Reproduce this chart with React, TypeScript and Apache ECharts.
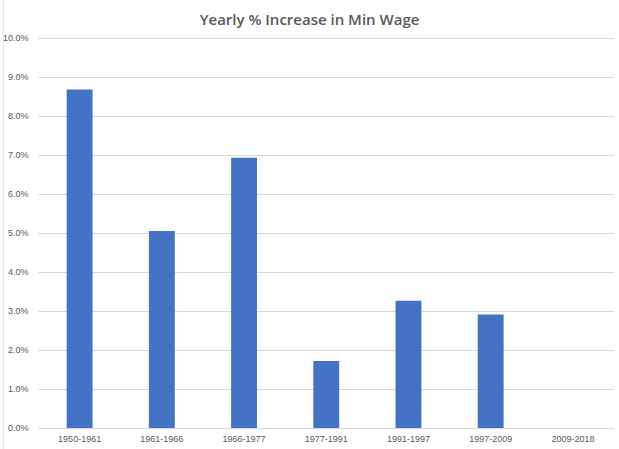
import React, { useEffect, useRef } from "react";
import * as echarts from "echarts";

const categories = ["1950-1961", "1961-1966", "1966-1977", "1977-1991", "1991-1997", "1997-2009", "2009-2018"];
const increases = [8.68, 5.05, 6.93, 1.72, 3.26, 2.91, 0];
const yTicks = { min: 0, max: 10, interval: 1 };

export default function App() {
  const ref = useRef<HTMLDivElement>(null);
  useEffect(() => {
    if (!ref.current) return;
    const chart = echarts.init(ref.current, undefined, { renderer: "svg" });
    chart.setOption({
      animation: false,
      backgroundColor: "#ffffff",
      title: {
        text: "Yearly % Increase in Min Wage",
        left: "center",
        top: 6,
        textStyle: { fontFamily: "Open Sans", fontSize: 15, fontWeight: 600, color: "#595959" },
      },
      grid: { left: 38, right: 5, top: 38, bottom: 21, containLabel: false },
      xAxis: {
        type: "category",
        data: categories,
        axisLine: { show: true, lineStyle: { color: "#d9d9d9", width: 1 } },
        axisTick: { show: false },
        axisLabel: { color: "#595959", fontSize: 9, fontFamily: "Liberation Sans", margin: 6 },
      },
      yAxis: {
        type: "value",
        min: yTicks.min,
        max: yTicks.max,
        interval: yTicks.interval,
        axisLine: { show: false },
        axisTick: { show: false },
        splitLine: { lineStyle: { color: "#d9d9d9", width: 1 } },
        axisLabel: {
          color: "#595959",
          fontSize: 9,
          fontFamily: "Liberation Sans",
          margin: 10,
          formatter: (v: number) => v.toFixed(1) + "%",
        },
      },
      graphic: [
        { type: "line", shape: { x1: 3.5, y1: 0, x2: 3.5, y2: 449 }, style: { stroke: "#e6e6e6", lineWidth: 1 } },
      ],
      series: [
        {
          type: "bar",
          data: increases,
          barWidth: "31.5%",
          itemStyle: { color: "#4472C4" },
        },
      ],
    });
    return () => chart.dispose();
  }, []);
  return <div ref={ref} style={{ position: "fixed", left: 0, top: 0, width: 619, height: 449 }} />;
}
